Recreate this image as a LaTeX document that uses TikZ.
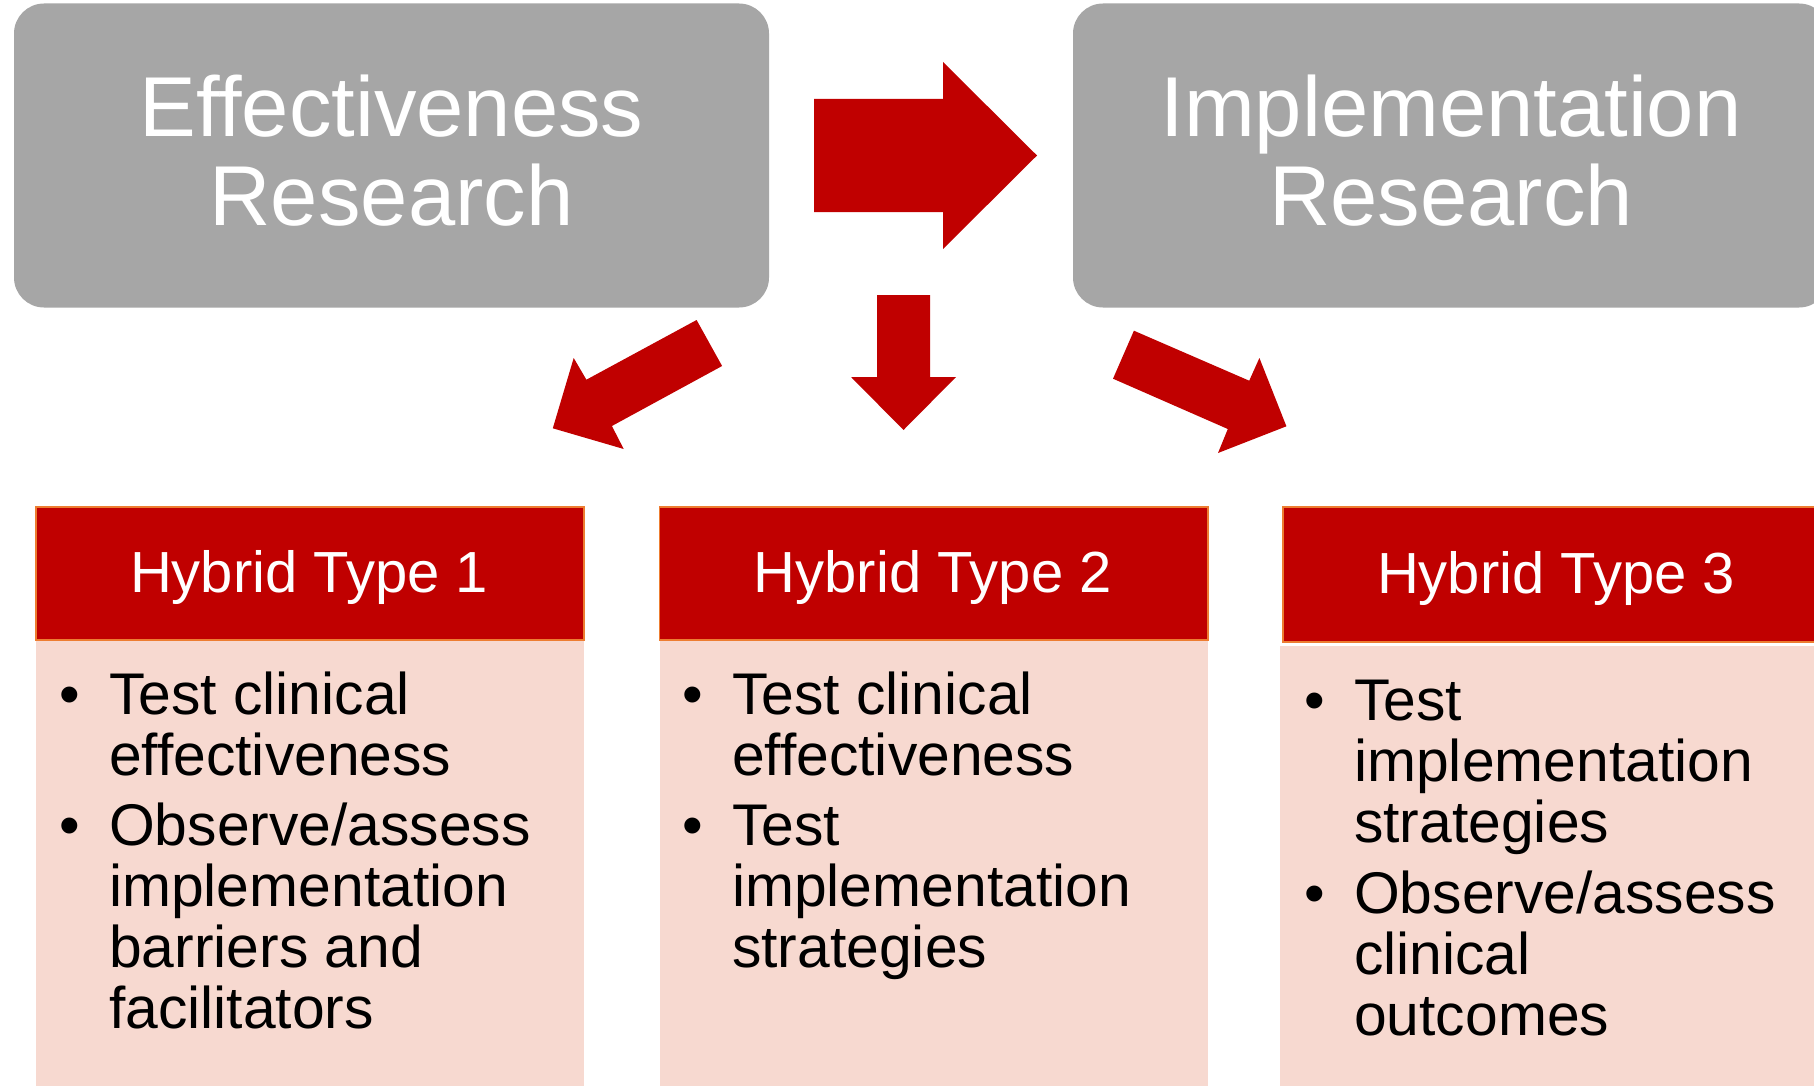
\documentclass[tikz,border=0pt]{standalone}
\usepackage{fontspec}
\setmainfont{Liberation Sans}
\definecolor{boxgray}{HTML}{A6A6A6}
\definecolor{darkred}{HTML}{C00000}
\definecolor{edgeorange}{HTML}{ED7D31}
\definecolor{bodypink}{HTML}{F7D9D0}
\newcommand\hbul{\leavevmode\llap{\makebox[78pt]{•}}}
\begin{document}
\begin{tikzpicture}[x=1pt,y=-1pt,
  graybox/.style={fill=boxgray, draw=none, rounded corners=30pt, inner sep=0pt},
  redhead/.style={fill=darkred, draw=edgeorange, line width=1.5pt, inner sep=0pt},
  pinkbody/.style={fill=bodypink, draw=none, inner sep=0pt},
  blockarrow/.style={fill=darkred, draw=none},
  titletext/.style={anchor=base, inner sep=0pt, text=white, font=\fontsize{85}{89}\selectfont},
  headtext/.style={anchor=base, inner sep=0pt, text=white, font=\fontsize{58}{61}\selectfont},
  bodytext/.style={anchor=base west, inner sep=0pt, text=black, font=\fontsize{58.8}{61}\selectfont}
]
\useasboundingbox (0,0) rectangle (1814,1086);
\fill[white] (0,0) rectangle (1814,1086);

% top boxes
\node[graybox, minimum width=755pt, minimum height=304pt] (eff) at (391.5,155.5) {};
\node[graybox, minimum width=756pt, minimum height=304pt] (impl) at (1451,155.5) {};
\node[titletext] (efft) at (391.5,136.7) {\parbox[t]{720pt}{\centering Effectiveness\\Research}};
\node[titletext] (implt) at (1451,136.7) {\parbox[t]{720pt}{\centering Implementation\\Research}};

% hybrid boxes
\node[pinkbody, minimum width=548pt, minimum height=450pt] (b1) at (310,865) {};
\node[pinkbody, minimum width=548.5pt, minimum height=450pt] (b2) at (933.75,865) {};
\node[pinkbody, minimum width=551pt, minimum height=446pt] (b3) at (1555.5,869) {};
\node[redhead, minimum width=548pt, minimum height=133pt] (h1) at (310,573.5) {};
\node[redhead, minimum width=548.5pt, minimum height=133pt] (h2) at (933.75,573.5) {};
\node[redhead, minimum width=548pt, minimum height=135pt] (h3) at (1557,574.5) {};
\node[headtext] (h1t) at (309,592.7) {Hybrid Type 1};
\node[headtext] (h2t) at (932.75,592.7) {Hybrid Type 2};
\node[headtext] (h3t) at (1556,593.5) {Hybrid Type 3};

\node[bodytext] (b1t) at (109,714) {\parbox[t]{470pt}{\raggedright
  \hbul Test clinical\\effectiveness\\[9pt]\hbul Observe/assess\\implementation\\barriers and\\facilitators}};
\node[bodytext] (b2t) at (732,714) {\parbox[t]{470pt}{\raggedright
  \hbul Test clinical\\effectiveness\\[9pt]\hbul Test\\implementation\\strategies}};
\node[bodytext] (b3t) at (1354,720) {\parbox[t]{470pt}{\raggedright
  \hbul Test\\implementation\\strategies\\[10pt]\hbul Observe/assess\\clinical\\outcomes}};

% block arrows
\fill[blockarrow] (814,99) -- (943,99) -- (943,62) -- (1037,155.5) -- (943,249) -- (943,212) -- (814,212) -- cycle;
\fill[blockarrow] (877,295) -- (930,295) -- (930,377) -- (956,377) -- (903.5,430) -- (851,377) -- (877,377) -- cycle;
\fill[blockarrow] (696.6,320) -- (722.1,366) -- (611.9,426) -- (623.7,449) -- (552.8,428.3) -- (573.7,358) -- (586.4,379.7) -- cycle;
\fill[blockarrow] (1133.9,330.7) -- (1249.2,380.7) -- (1259.4,358) -- (1286.4,426.3) -- (1218,453) -- (1227.8,429) -- (1113,378.7) -- cycle;
\end{tikzpicture}
\end{document}
